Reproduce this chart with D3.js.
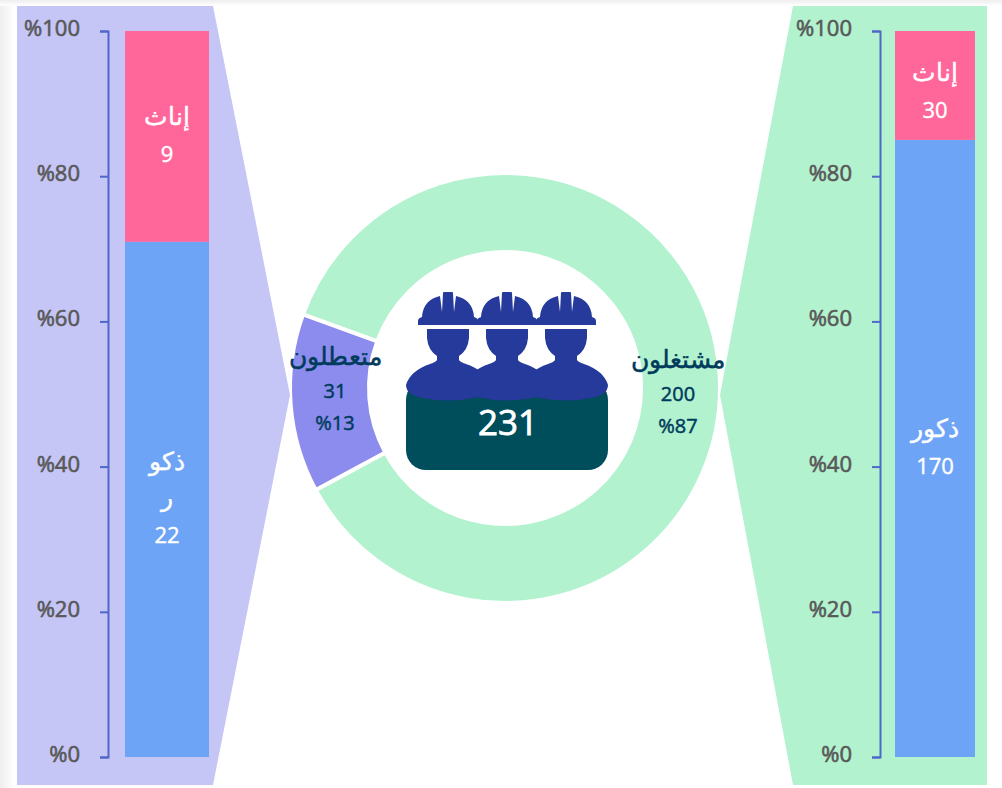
<!DOCTYPE html>
<html lang="ar">
<head>
<meta charset="utf-8">
<script src="https://cdn.jsdelivr.net/npm/d3@7"></script>
<style>
html,body{margin:0;padding:0;background:#fff;width:1002px;height:788px;overflow:hidden}
svg{display:block;font-family:"Open Sans","Noto Sans",sans-serif}
</style>
</head>
<body>
<svg id="c" width="1002" height="788"></svg>
<script>
const donutLabels = ["مشتغلون", "متعطلون"];
const donutValues = [200, 31];
const donutPercents = ["%87", "%13"];
const donutTotal = "231";
const genderLabels = ["ذكور", "إناث"];
const unemployedGender = [22, 9];
const employedGender = [170, 30];
const axisTicks = [0, 20, 40, 60, 80, 100];

const colors = {green:"#B3F2CF", lilac:"#C5C5F6", slice:"#8C8CEE", male:"#6EA4F6", female:"#FF6699",
  axis:"#4F67C9", tick:"#595959", navy:"#003B5C", teal:"#004D5C", blue:"#253A9A"};

const svg = d3.select("#c");
const defs = svg.append("defs");
const grad = (id,x1,y1,x2,y2)=>{
  const g = defs.append("linearGradient").attr("id",id).attr("x1",x1).attr("y1",y1).attr("x2",x2).attr("y2",y2);
  g.append("stop").attr("offset",0).attr("stop-color","#eeeeee");
  g.append("stop").attr("offset",1).attr("stop-color","#ffffff");
};
grad("sl",0,0,1,0); grad("st",0,0,0,1);
svg.append("rect").attr("width",14).attr("height",788).attr("fill","url(#sl)");
svg.append("rect").attr("width",1002).attr("height",6).attr("fill","url(#st)");

// donut
const cx=505, cy=388;
const pie = d3.pie().sort(null).startAngle(-70*Math.PI/180).endAngle(290*Math.PI/180);
const arc = d3.arc().innerRadius(136).outerRadius(215);
const dg = svg.append("g").attr("transform",`translate(${cx},${cy})`);
dg.selectAll("path").data(pie(donutValues)).join("path").attr("d",arc)
  .attr("fill",(d,i)=>i?colors.slice:colors.green).attr("stroke","#fff").attr("stroke-width",4);

// side panels
svg.append("path").attr("fill",colors.lilac).attr("d","M17,6H213L290,395L213,785H17Z");
svg.append("path").attr("fill",colors.green).attr("d","M987,6H793L720,395L793,785H987Z");

const y = d3.scaleLinear().domain([0,100]).range([757,31]);

function stacked(values, axisX, barL, barR, labelLines, labelShift){
  const total = d3.sum(values);
  const g = svg.append("g");
  const ax = g.append("g").attr("transform",`translate(${axisX},0)`)
    .call(d3.axisLeft(y).tickValues(axisTicks).tickSize(8).tickPadding(20).tickFormat(d=>"%"+d));
  ax.selectAll("path,line").attr("stroke",colors.axis).attr("stroke-width",2);
  ax.selectAll("text").attr("fill",colors.tick).attr("stroke",colors.tick).attr("stroke-width",0.6)
    .attr("font-size",22).attr("font-weight",400)
    .attr("dy","0.2em").style("direction","ltr").attr("font-family","'Open Sans',sans-serif");
  const x = d3.scaleBand().domain(["bar"]).range([barL,barR]);
  const series = d3.stack().keys([0,1]).value((d,k)=>d[k]/total*100)([values]);
  g.selectAll("rect.s").data(series).join("rect").attr("class","s")
    .attr("x",x("bar")).attr("width",x.bandwidth())
    .attr("y",d=>y(d[0][1])).attr("height",d=>y(d[0][0])-y(d[0][1]))
    .attr("fill",(d,i)=>i?colors.female:colors.male);
  series.forEach((s,i)=>{
    const mid = y((s[0][0]+s[0][1])/2)+labelShift[i];
    const lines = labelLines[i];
    const t = g.append("text").attr("text-anchor","middle").attr("fill","#fff").attr("stroke","#fff").attr("stroke-width",0.4);
    lines.forEach((l,j)=>{
      const isNum = typeof l === "number";
      t.append("tspan").attr("x",x("bar")+x.bandwidth()/2)
       .attr("y",mid+(j-(lines.length-1)/2)*36.5+7)
       .attr("font-size",isNum?22:24.5).attr("font-weight",400).text(l);
    });
  });
}
stacked(unemployedGender,108,125,209,[["ذكو","ر",unemployedGender[0]],[genderLabels[1],unemployedGender[1]]],[0,0]);
stacked(employedGender,880,895,975,[[genderLabels[0],employedGender[0]],[genderLabels[1],employedGender[1]]],[0,7]);

// donut labels
const lab = [[678,361],[335,358]];
donutValues.forEach((v,i)=>{
  const t = svg.append("text").attr("text-anchor","middle").attr("fill",colors.navy).attr("stroke",colors.navy).attr("stroke-width",0.5);
  [donutLabels[i],v,donutPercents[i]].forEach((s,j)=>{
    t.append("tspan").attr("x",lab[i][0]).attr("y",lab[i][1]+7+j*32.5)
      .attr("font-size",j?20:24.5).attr("font-weight",400).text(s);
  });
});

// icon
svg.append("rect").attr("x",406).attr("y",380).attr("width",202).attr("height",90).attr("rx",20).attr("fill",colors.teal);
const helmet = "M-30,325V321Q-30,318 -26,317Q-25,300 -8,296L-6,312L-5,293Q-5,292 -4,292H4Q5,292 5,293L6,312L8,296Q25,300 26,317Q30,318 30,321V325Z";
const head = "M-21,329H21V338Q20,350 11,356V360Q12,362 18,364Q38,371 42,385Q42,395 25,398Q0,403 -25,398Q-42,395 -42,385Q-38,371 -18,364Q-12,362 -11,360V356Q-20,350 -21,338Z";
const people = svg.append("g").selectAll("g").data([448,507,566]).join("g").attr("transform",d=>`translate(${d},0)`).attr("fill",colors.blue);
people.append("path").attr("d",head);
people.append("path").attr("d",helmet);
svg.append("text").attr("x",508).attr("y",435).attr("text-anchor","middle").attr("fill","#fff").attr("font-size",35).attr("font-weight",400).attr("stroke","#fff").attr("stroke-width",0.8).text(donutTotal);
</script>
</body>
</html>
